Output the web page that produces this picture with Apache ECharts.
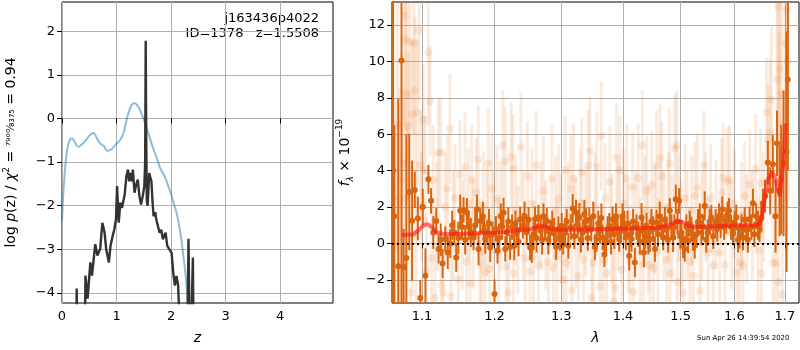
<!DOCTYPE html>
<html>
<head>
<meta charset="utf-8">
<script src="https://cdn.jsdelivr.net/npm/echarts@6/dist/echarts.min.js"></script>
<style>
  html, body { margin: 0; padding: 0; background: #fff; }
  #chart { width: 800px; height: 350px; }
</style>
</head>
<body>
<div id="chart"></div>
<script>
// left panel: log p(z) curves
var zTicks = [0, 1, 2, 3, 4];
var logpTicks = [-4, -3, -2, -1, 0, 1, 2];
var bluePz = [
  [0, -2.35], [0.02, -1.8], [0.05, -1.25], [0.08, -0.85], [0.11, -0.62], [0.14, -0.5], [0.17, -0.46],
  [0.2, -0.47], [0.23, -0.53], [0.27, -0.62], [0.3, -0.65], [0.34, -0.62], [0.4, -0.55], [0.45, -0.48],
  [0.5, -0.4], [0.55, -0.34], [0.58, -0.33], [0.62, -0.4], [0.66, -0.5], [0.7, -0.57], [0.74, -0.61],
  [0.78, -0.65], [0.81, -0.73], [0.85, -0.74], [0.9, -0.71], [0.95, -0.65], [1.0, -0.57], [1.05, -0.52],
  [1.1, -0.42], [1.13, -0.32], [1.16, -0.17], [1.19, 0.0], [1.22, 0.13], [1.26, 0.27], [1.3, 0.34],
  [1.34, 0.35], [1.38, 0.3], [1.42, 0.22], [1.46, 0.1], [1.5, -0.02], [1.55, -0.2], [1.6, -0.4],
  [1.65, -0.6], [1.7, -0.78], [1.75, -0.95], [1.8, -1.14], [1.85, -1.25], [1.9, -1.38], [1.95, -1.55],
  [2.0, -1.73], [2.05, -1.95], [2.1, -2.16], [2.14, -2.4], [2.18, -2.7], [2.22, -3.08], [2.25, -3.4],
  [2.28, -3.75], [2.31, -4.23], [2.33, -4.6]
];
var chi2Pz = [
  [0.25, -6], [0.27, -3.9], [0.29, -6], [0.41, -6], [0.43, -3.6], [0.47, -4.13], [0.52, -3.3], [0.55, -3.6],
  [0.61, -2.88], [0.65, -3.14], [0.7, -2.99], [0.74, -2.39], [0.78, -2.61], [0.81, -2.99], [0.86, -3.3],
  [0.89, -2.92], [0.93, -2.69], [0.96, -2.54], [0.99, -2.31], [1.01, -1.55], [1.04, -2.39], [1.07, -1.93],
  [1.1, -2.05], [1.15, -1.74], [1.18, -1.33], [1.21, -1.17], [1.23, -1.44], [1.25, -1.25], [1.28, -1.44],
  [1.3, -1.17], [1.33, -1.7], [1.36, -1.52], [1.39, -1.4], [1.42, -1.78], [1.45, -1.97], [1.48, -1.78],
  [1.51, -1.55], [1.525, -1.0], [1.535, 1.78], [1.545, -0.5], [1.555, -1.9], [1.57, -2.0], [1.6, -1.25],
  [1.62, -1.35], [1.64, -1.44], [1.66, -1.9], [1.68, -2.24], [1.71, -2.15], [1.73, -2.32], [1.79, -2.62],
  [1.82, -2.55], [1.85, -2.77], [1.9, -2.62], [1.93, -2.92], [1.96, -2.96], [2.01, -3.08], [2.04, -3.53],
  [2.07, -3.83], [2.1, -3.61], [2.13, -3.83], [2.15, -4.5], [2.17, -6], [2.29, -6], [2.32, -2.76],
  [2.35, -6], [2.38, -6], [2.4, -3.19], [2.42, -6], [2.5, -6]
];

// right panel: spectrum
var lamTicks = [1.1, 1.2, 1.3, 1.4, 1.5, 1.6, 1.7];
var fluxTicks = [-2, 0, 2, 4, 6, 8, 10, 12];
var modelLam = [1.0739, 1.089, 1.0956, 1.1022, 1.1074, 1.1132, 1.1199, 1.1289, 1.1562, 1.2033, 1.2523,
  1.2649, 1.2725, 1.2827, 1.2981, 1.3563, 1.4116, 1.4574, 1.475, 1.4928, 1.5018, 1.5138, 1.529, 1.5909,
  1.6461, 1.6527, 1.6593, 1.6659, 1.6746, 1.6813, 1.6893, 1.6961, 1.7016];
var modelFlux = [0.47, 0.51, 0.73, 1.0, 1.06, 0.88, 0.6, 0.51, 0.53, 0.6, 0.78,
  0.93, 0.97, 0.82, 0.75, 0.78, 0.82, 0.86, 0.97, 1.19, 1.19, 1.0, 0.9, 0.97,
  1.0, 1.33, 2.43, 3.53, 3.93, 3.53, 2.6, 4.26, 6.6];
// [lambda, flux, error]
var darkPoints = [
  [1.0625, 4.0, 10], [1.064, 1.5, 5], [1.0691, -1.25, 9.2], [1.0733, 10.05, 14], [1.076, -1.3, 2.1],
  [1.0795, -0.8, 6.8], [1.0833, 2.83, 3.2], [1.087, 1.25, 3.3], [1.0905, 2.94, 1.0], [1.0945, 1.37, 1.2],
  [1.0978, -3.0, 1.0], [1.101, 2.0, 1.0], [1.1045, -1.77, 1.5], [1.1085, 3.52, 0.8], [1.112, 2.34, 0.7],
  [1.115, 0.6, 0.9], [1.119, 1.24, 0.7], [1.1221, -0.3, 0.8], [1.125, 0.2, 0.9], [1.1275, -1.1, 0.8],
  [1.1311, 0.24, 0.7], [1.1345, -0.5, 0.9], [1.1379, 0.0, 0.8], [1.1405, 1.0, 0.8], [1.1434, 0.6, 0.7],
  [1.1461, -0.77, 0.8], [1.149, 0.3, 0.9], [1.1516, 1.79, 0.9], [1.154, 0.9, 0.7], [1.1562, 1.84, 0.7],
  [1.1585, 0.2, 0.8], [1.1609, 1.7, 0.8], [1.1635, 0.9, 0.7], [1.1664, 0.6, 0.8], [1.1702, 0.33, 0.7],
  [1.1725, 1.0, 0.8], [1.1749, 1.88, 0.8], [1.1772, -0.3, 0.9], [1.1796, 1.24, 0.7], [1.1833, 1.5, 0.8],
  [1.185, 0.7, 0.7], [1.1867, 0.24, 0.8], [1.19, 0.6, 0.7], [1.192, 1.1, 0.8], [1.1938, -0.22, 0.8],
  [1.197, 0.5, 0.7], [1.2, -2.78, 0.8], [1.202, 0.8, 0.7], [1.2043, -0.4, 0.7], [1.2065, 0.3, 0.8],
  [1.2091, 1.5, 0.7], [1.211, 0.9, 0.7], [1.213, 1.7, 0.8], [1.2155, -0.3, 0.7], [1.2178, 0.6, 0.7],
  [1.22, 1.2, 0.8], [1.2227, -0.2, 0.7], [1.2255, 0.9, 0.7], [1.2286, -0.13, 0.8], [1.2305, 1.1, 0.7],
  [1.2325, 0.6, 0.7], [1.235, 0.1, 0.8], [1.2374, 1.33, 0.7], [1.2414, 0.97, 0.7], [1.244, 1.5, 0.8],
  [1.2473, 0.6, 0.7], [1.25, 1.3, 0.7], [1.2523, -0.22, 0.7], [1.2548, -0.27, 0.8], [1.2575, 0.5, 0.7],
  [1.2598, 1.33, 0.7], [1.262, 0.3, 0.8], [1.2649, 1.42, 0.7], [1.2684, 0.7, 0.7], [1.2705, 0.2, 0.8],
  [1.2725, 1.5, 0.7], [1.275, 0.9, 0.7], [1.2776, 1.24, 0.7], [1.28, 0.2, 0.8], [1.2827, 0.6, 0.7],
  [1.286, 1.1, 0.7], [1.2888, 0.6, 0.8], [1.292, -0.2, 0.7], [1.2955, 0.78, 0.7], [1.298, 0.3, 0.7],
  [1.3007, 0.97, 0.7], [1.303, 0.1, 0.7], [1.3059, 0.6, 0.8], [1.3085, 1.2, 0.7], [1.3111, -0.13, 0.7],
  [1.315, 0.9, 0.7], [1.3179, 1.92, 0.8], [1.3205, 0.4, 0.7], [1.3232, 1.7, 0.7], [1.326, 1.0, 0.7],
  [1.3285, 1.42, 0.8], [1.331, 0.2, 0.7], [1.3338, 0.6, 0.7], [1.3365, 1.6, 0.8], [1.3391, 1.24, 0.7],
  [1.342, 0.3, 0.7], [1.3445, 1.3, 0.7], [1.3475, 0.8, 0.7], [1.3509, 1.5, 0.8], [1.3535, -0.2, 0.7],
  [1.3563, 0.24, 0.7], [1.359, 1.1, 0.7], [1.3618, 0.7, 0.7], [1.364, 1.4, 0.8], [1.3661, 0.33, 0.7],
  [1.369, -0.6, 0.7], [1.3716, 0.05, 0.7], [1.3745, 0.8, 0.7], [1.3771, 0.97, 0.7], [1.38, 0.1, 0.7],
  [1.3826, 1.33, 0.7], [1.3855, 0.5, 0.8], [1.3881, 1.5, 0.7], [1.391, 0.8, 0.7], [1.3936, 0.24, 0.7],
  [1.3965, 0.7, 0.7], [1.3992, 1.5, 0.7], [1.402, 1.0, 0.8], [1.4048, 0.33, 0.7], [1.4075, 1.1, 0.7],
  [1.4104, -0.68, 0.8], [1.4125, 0.5, 0.7], [1.4143, 0.24, 0.7], [1.417, 1.2, 0.7], [1.42, -1.04, 0.8],
  [1.4228, 0.9, 0.7], [1.4257, 0.51, 0.7], [1.4285, 0.1, 0.7], [1.4314, 1.42, 0.8], [1.4335, 0.7, 0.7],
  [1.4354, -0.5, 0.8], [1.4378, 0.4, 0.7], [1.44, 0.97, 0.7], [1.443, 0.1, 0.7], [1.4457, 0.24, 0.7],
  [1.4485, 1.2, 0.7], [1.4515, 0.78, 0.7], [1.4545, -0.3, 0.7], [1.4573, 1.15, 0.7], [1.46, 0.5, 0.7],
  [1.4631, 1.5, 0.8], [1.466, 0.9, 0.7], [1.469, 0.33, 0.7], [1.472, 1.3, 0.7], [1.4749, 0.78, 0.7],
  [1.4778, 0.2, 0.7], [1.4808, 1.79, 0.7], [1.4837, 0.9, 0.7], [1.4867, 0.33, 0.8], [1.489, 0.9, 0.7],
  [1.4914, 2.43, 0.8], [1.4945, 1.2, 0.7], [1.4974, 2.34, 0.7], [1.4995, 0.4, 0.7], [1.5016, 0.6, 0.7],
  [1.5045, -0.1, 0.7], [1.5076, -0.3, 0.7], [1.5105, 0.9, 0.7], [1.5136, 0.15, 0.7], [1.5165, 1.1, 0.7],
  [1.5196, 0.78, 0.7], [1.5225, 0.3, 0.7], [1.5257, -0.13, 0.7], [1.529, 0.5, 0.7], [1.5318, 1.19, 0.7],
  [1.535, 1.5, 0.7], [1.5379, 0.6, 0.7], [1.541, 0.9, 0.7], [1.5441, 2.06, 0.8], [1.547, 0.2, 0.7],
  [1.5502, 0.6, 0.7], [1.5533, 1.2, 0.7], [1.5564, 1.42, 0.7], [1.56, 0.4, 0.7], [1.5645, 1.19, 0.7],
  [1.5675, 0.8, 0.7], [1.5708, 1.5, 0.7], [1.574, 1.0, 0.7], [1.577, 1.88, 0.7], [1.5805, 0.9, 0.7],
  [1.5846, 1.24, 0.7], [1.587, 1.6, 0.7], [1.5897, 1.79, 0.7], [1.5935, 0.9, 0.7], [1.5973, 0.6, 0.7],
  [1.6005, 1.1, 0.7], [1.6037, 1.42, 0.7], [1.607, 0.2, 0.7], [1.6101, 0.42, 0.7], [1.6135, 0.9, 0.7],
  [1.6166, 0.33, 0.7], [1.62, 1.3, 0.7], [1.623, 0.78, 0.7], [1.6262, 0.2, 0.7], [1.6295, 1.33, 0.7],
  [1.633, 0.9, 0.7], [1.636, 2.21, 0.8], [1.639, 0.5, 0.7], [1.6425, 1.5, 0.7], [1.646, 1.0, 0.8],
  [1.6491, 0.78, 0.7], [1.6525, 1.4, 0.8], [1.6557, 2.21, 0.8], [1.66, 2.6, 0.9], [1.6656, 4.44, 1.2],
  [1.6703, 2.89, 1.3], [1.6756, 4.35, 1.6], [1.681, 1.5, 2.0], [1.684, 5.5, 1.8], [1.6891, 2.89, 2.5],
  [1.6925, 3.5, 3.0], [1.6972, 4.4, 4.0], [1.7034, 5.04, 6.6], [1.706, 9.0, 5.0]
];
var faintPoints = [
  [1.065, 0.0, 8], [1.068, 6.5, 7], [1.07, 2.5, 6], [1.073, 3.5, 7], [1.0756, 4.4, 4], [1.0775, 12.5, 6],
  [1.0786, 11.2, 5], [1.079, 2.5, 4], [1.081, 8.2, 5], [1.0821, 6.45, 4], [1.0843, 11.07, 5], [1.0856, -2.7, 3],
  [1.087, 7.1, 4], [1.0895, 11.0, 5], [1.0908, 8.4, 4], [1.092, 0.5, 4], [1.0942, 7.2, 4], [1.0961, 11.7, 4],
  [1.0982, 4.3, 3], [1.0995, 2.0, 3], [1.1017, 6.8, 3], [1.104, 4.0, 3], [1.106, -1.5, 3], [1.1083, 10.5, 4],
  [1.1106, 7.8, 3], [1.1127, -0.8, 3], [1.1149, 3.5, 3], [1.1172, -3.0, 3], [1.12, 1.5, 3], [1.1217, 5.0, 3],
  [1.1248, 5.0, 3], [1.1261, -2.3, 3], [1.1284, -2.7, 3], [1.131, 2.0, 3], [1.134, 3.0, 3], [1.1375, 6.3, 3],
  [1.1389, -2.9, 3], [1.142, 1.0, 3], [1.1443, 2.5, 3], [1.1489, -1.95, 3], [1.1512, 3.8, 3], [1.1545, 0.5, 3],
  [1.1582, 4.2, 3], [1.1604, -1.0, 3], [1.163, 2.2, 3], [1.1652, -2.2, 3], [1.1675, 3.5, 3], [1.17, 0.5, 3],
  [1.174, 2.8, 3], [1.1767, 4.6, 3], [1.179, -0.5, 3], [1.1815, -1.2, 3], [1.184, 2.0, 3], [1.1863, -1.6, 3],
  [1.189, 1.2, 3], [1.1909, 4.4, 3], [1.193, -1.4, 3], [1.196, 3.0, 3], [1.1985, 1.0, 3], [1.2033, 2.44, 3],
  [1.206, -0.5, 3], [1.2082, 1.5, 3], [1.2121, 5.4, 3], [1.2154, 4.5, 3], [1.2169, -1.26, 3], [1.2203, -2.7, 3],
  [1.2242, 4.75, 3], [1.2266, 4.1, 3], [1.2275, -1.63, 3], [1.231, 1.8, 3], [1.234, 0.2, 3], [1.2385, 5.3, 3],
  [1.242, 1.0, 3], [1.245, -0.8, 3], [1.2484, 3.7, 3], [1.2523, -1.54, 3], [1.255, 2.2, 3], [1.2574, -0.7, 3],
  [1.2614, 4.3, 3], [1.2649, -1.2, 3], [1.269, 1.5, 3], [1.2725, 2.9, 3], [1.276, 0.5, 3], [1.28, -1.0, 3],
  [1.2854, 3.55, 3], [1.2879, -1.35, 3], [1.291, 1.8, 3], [1.2931, -0.7, 3], [1.2957, 2.44, 3], [1.3, 0.8, 3],
  [1.303, -2.0, 3], [1.306, 4.0, 3], [1.3076, -1.07, 3], [1.311, 1.5, 3], [1.315, 3.0, 3], [1.3166, -2.55, 3],
  [1.3192, 3.55, 3], [1.323, 0.6, 3], [1.3271, -1.8, 3], [1.33, 2.2, 3], [1.3325, 3.9, 3], [1.3351, -0.9, 3],
  [1.339, 1.2, 3], [1.3428, 4.3, 3], [1.3456, 5.07, 3], [1.348, -3.0, 3], [1.3509, -1.07, 3], [1.354, 2.0, 3],
  [1.3564, 4.2, 3], [1.3617, -2.37, 3], [1.364, 5.9, 3], [1.3672, -0.9, 3], [1.37, 2.5, 3], [1.3727, -1.63, 3],
  [1.3782, 3.4, 3], [1.381, 0.8, 3], [1.3837, -3.2, 3], [1.3865, -2.46, 3], [1.3893, 4.7, 3], [1.392, 1.5, 3],
  [1.3949, 4.0, 3], [1.3977, -1.44, 3], [1.401, 2.2, 3], [1.4061, 3.55, 3], [1.409, 0.3, 3], [1.4117, -0.9, 3],
  [1.4162, 3.1, 3], [1.4173, -2.65, 3], [1.421, 1.0, 3], [1.4258, 3.6, 3], [1.429, -0.5, 3], [1.4327, 5.4, 3],
  [1.4344, -1.17, 3], [1.437, 1.8, 3], [1.4402, 2.9, 3], [1.443, 0.2, 3], [1.446, -1.2, 3], [1.4489, 3.2, 3],
  [1.4518, -1.35, 3], [1.4545, 1.3, 3], [1.4576, 4.3, 3], [1.46, -0.5, 3], [1.4635, 4.7, 3], [1.4664, 3.7, 3],
  [1.47, 1.0, 3], [1.4753, -0.9, 3], [1.478, 2.0, 3], [1.48, 4.4, 3], [1.4811, -1.63, 3], [1.485, 0.8, 3],
  [1.49, 5.2, 3], [1.493, 5.4, 3], [1.4942, -2.1, 3], [1.497, 2.0, 3], [1.501, 0.5, 3], [1.5047, -2.74, 3],
  [1.508, 2.5, 3], [1.512, 1.0, 3], [1.5169, -1.0, 3], [1.52, 1.8, 3], [1.5229, -1.77, 3], [1.526, 2.6, 3],
  [1.5302, 3.07, 3], [1.5351, -2.6, 3], [1.539, 1.0, 3], [1.5425, 4.3, 3], [1.546, 2.0, 3], [1.5505, -0.5, 3],
  [1.555, 2.5, 3], [1.5597, -1.2, 3], [1.565, 1.6, 3], [1.5721, -0.5, 3], [1.576, 2.8, 3], [1.5784, 3.6, 3],
  [1.582, -1.17, 3], [1.5867, 3.4, 3], [1.591, 3.5, 3], [1.595, 0.5, 3], [1.6, 2.2, 3], [1.605, -1.6, 3],
  [1.6102, -1.04, 3], [1.614, 1.5, 3], [1.6166, -1.2, 3], [1.6199, 2.6, 3], [1.624, 0.8, 3], [1.6296, 3.25, 3],
  [1.635, 1.0, 3], [1.6411, 4.07, 3], [1.6461, -0.4, 3], [1.6509, 3.3, 3], [1.6529, -1.63, 3], [1.657, 2.0, 3],
  [1.6628, 7.2, 3], [1.6661, 5.7, 3], [1.6695, 6.1, 4], [1.6728, 7.9, 4], [1.676, -1.04, 4], [1.6815, -1.1, 4],
  [1.6842, 9.0, 5], [1.6862, 13.0, 6], [1.687, -2.1, 5], [1.6882, 6.6, 5], [1.6896, 9.6, 6], [1.693, 8.2, 6],
  [1.695, -2.8, 5], [1.7, 11.0, 7], [1.7034, 12.85, 7], [1.706, 10.0, 8]
];

var FONT = 'DejaVu Sans';
var minus = function (v) { return v < 0 ? '\u2212' + Math.abs(v) : String(v); };

function errorBars(points, color, barWidth, radius) {
  return {
    type: 'custom',
    xAxisIndex: 1,
    yAxisIndex: 1,
    clip: true,
    silent: true,
    data: points.map(function (p) { return [Math.log(p[0]), p[1], p[2]]; }),
    renderItem: function (params, api) {
      var x = api.value(0), v = api.value(1), e = api.value(2);
      var hi = api.coord([x, v + e]);
      var lo = api.coord([x, v - e]);
      var c = api.coord([x, v]);
      return {
        type: 'group',
        children: [
          { type: 'line', shape: { x1: hi[0], y1: hi[1], x2: lo[0], y2: lo[1] },
            style: { stroke: color, lineWidth: barWidth } },
          { type: 'circle', shape: { cx: c[0], cy: c[1], r: radius }, style: { fill: color } }
        ]
      };
    }
  };
}

var axisCommon = {
  axisLine: { show: false },
  axisTick: { show: true, inside: false, length: 5, lineStyle: { color: '#000', width: 1 } },
  splitLine: { show: true, lineStyle: { color: '#b0b0b0', width: 1 } },
  axisLabel: { color: '#000', fontSize: 13, fontFamily: FONT, margin: 7 }
};
function ax(extra) {
  var o = JSON.parse(JSON.stringify(axisCommon));
  for (var k in extra) {
    if (typeof extra[k] === 'object' && o[k]) { for (var j in extra[k]) o[k][j] = extra[k][j]; }
    else o[k] = extra[k];
  }
  return o;
}

var chartDom = document.getElementById('chart');
var myChart = echarts.init(chartDom);
var option = {
  animation: false,
  textStyle: { fontFamily: FONT },
  grid: [
    { left: 62, right: 467, top: 2, bottom: 46, show: true, borderColor: '#000', borderWidth: 1 },
    { left: 392, right: 1, top: 2, bottom: 46, show: true, borderColor: '#000', borderWidth: 1 }
  ],
  xAxis: [
    ax({ type: 'value', gridIndex: 0, min: 0, max: 4.97,
      axisTick: { customValues: zTicks }, axisLabel: { customValues: zTicks, formatter: minus },
      name: 'z', nameLocation: 'middle', nameGap: 28,
      nameTextStyle: { fontSize: 14, fontStyle: 'italic', color: '#000' } }),
    ax({ type: 'value', gridIndex: 1, min: Math.log(1.0611), max: Math.log(1.729),
      axisTick: { customValues: lamTicks.map(Math.log) },
      axisLabel: { customValues: lamTicks.map(Math.log),
        formatter: function (v) { return Math.exp(v).toFixed(1); } },
      name: 'λ', nameLocation: 'middle', nameGap: 28,
      nameTextStyle: { fontSize: 14, fontStyle: 'italic', color: '#000' } })
  ],
  yAxis: [
    ax({ type: 'value', gridIndex: 0, min: -4.23, max: 2.67,
      axisTick: { customValues: logpTicks }, axisLabel: { customValues: logpTicks, formatter: minus },
      name: '{n|log }{i|p}{n|(z) / }{i|χ}{s|2}{n| = }{f|⁷⁹⁰⁰⁄₈₃₇₅}{n| = 0.94}',
      nameLocation: 'middle', nameGap: 42,
      nameTextStyle: { color: '#000', rich: {
        n: { fontSize: 14, lineHeight: 18, fontFamily: FONT },
        i: { fontSize: 14, lineHeight: 18, fontStyle: 'italic', fontFamily: FONT },
        s: { fontSize: 9, lineHeight: 18, verticalAlign: 'top', fontFamily: FONT },
        f: { fontSize: 11, lineHeight: 18, fontFamily: FONT }
      } } }),
    ax({ type: 'value', gridIndex: 1, min: -3.27, max: 13.26,
      axisTick: { customValues: fluxTicks }, axisLabel: { customValues: fluxTicks, formatter: minus },
      name: '{i|f}{b|λ}{n| × 10}{s|−19}',
      nameLocation: 'middle', nameGap: 36,
      nameTextStyle: { color: '#000', rich: {
        n: { fontSize: 14, lineHeight: 20, fontFamily: FONT },
        i: { fontSize: 14, lineHeight: 20, fontStyle: 'italic', fontFamily: FONT },
        b: { fontSize: 9, lineHeight: 20, verticalAlign: 'bottom', fontStyle: 'italic', fontFamily: FONT },
        s: { fontSize: 9, lineHeight: 20, verticalAlign: 'top', fontFamily: FONT }
      } } })
  ],
  series: [
    {
      type: 'line', xAxisIndex: 0, yAxisIndex: 0, data: bluePz, showSymbol: false, smooth: 0.3,
      clip: true, lineStyle: { color: 'rgba(31,119,180,0.5)', width: 2 }
    },
    {
      type: 'line', xAxisIndex: 0, yAxisIndex: 0, data: chi2Pz, showSymbol: false,
      clip: true, lineStyle: { color: '#333333', width: 2.4 }
    },
    errorBars(faintPoints, 'rgba(225,110,30,0.14)', 3, 4),
    errorBars(darkPoints, '#d9650f', 2, 3),
    {
      type: 'line', xAxisIndex: 1, yAxisIndex: 1, showSymbol: false, clip: true,
      data: modelLam.map(function (l, i) { return [Math.log(l), modelFlux[i]]; }),
      lineStyle: { color: 'rgba(255,20,20,0.6)', width: 4 },
      markLine: {
        silent: true, symbol: 'none', label: { show: false },
        lineStyle: { color: '#000', type: [2, 3], width: 2 },
        data: [{ yAxis: 0 }]
      }
    }
  ],
  graphic: [
    { type: 'text', right: 481, top: 12,
      style: { text: 'j163436p4022', fontSize: 13, fontFamily: FONT, fill: '#000', textAlign: 'right' } },
    { type: 'text', right: 481, top: 27,
      style: { text: 'ID=1378   z=1.5508', fontSize: 13, fontFamily: FONT, fill: '#000', textAlign: 'right' } },
    { type: 'text', left: 697, top: 335,
      style: { text: 'Sun Apr 26 14:39:54 2020', fontSize: 7, fontFamily: FONT, fill: '#000' } }
  ]
};
option && myChart.setOption(option);
</script>
</body>
</html>
